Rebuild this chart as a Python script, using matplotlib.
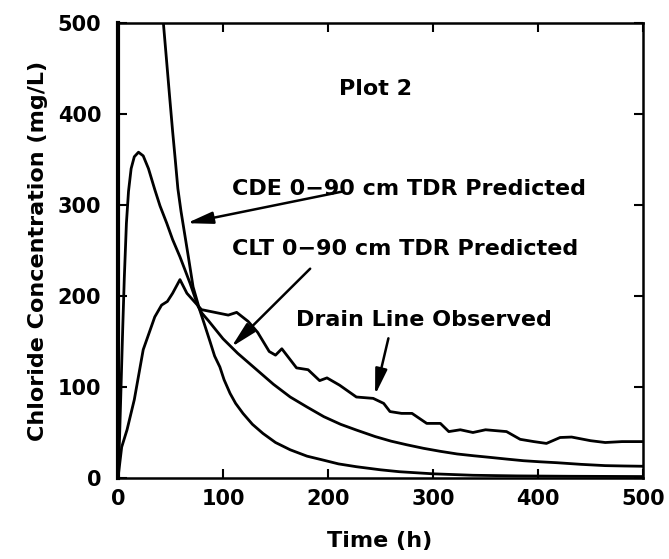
import numpy as np
import matplotlib
matplotlib.use('Agg')
import matplotlib.pyplot as plt

# chloride breakthrough, plot 2
obs_t = [0, 3.5, 8.6, 15.5, 24, 35, 41.5, 47, 52, 59, 65.6, 79.5, 105, 113, 124,
         133, 144, 150, 156, 170, 181, 192, 199, 211, 227, 243, 253, 259, 270,
         280, 294, 307, 315, 326, 338, 350, 370, 383, 396, 408, 421, 432, 450,
         464, 480, 500]
obs_c = [0, 34, 53, 86, 141, 177, 190, 194, 203, 218, 203, 185, 179, 182, 172,
         160, 139, 135, 142, 121, 119, 107, 110, 102, 89, 87.5, 82, 73, 71,
         71, 60, 60, 51, 53, 50, 53, 51, 42.5, 40, 38, 44.5, 45, 41,
         39, 40, 40]

clt_t = [0, 1.5, 3, 4.5, 6, 8, 10, 12.5, 15.5, 19.5, 24, 29, 35, 40, 46.4, 52,
         59, 64, 68.6, 72.5, 76.5, 80, 86, 93, 100, 107, 114, 120, 132, 148,
         164, 180, 196, 212, 227, 245, 260, 275, 291, 307, 323, 339, 354, 370,
         386, 402, 418, 441, 464, 482, 500]
clt_c = [0, 45, 105, 165, 220, 280, 315, 340, 353, 358, 354, 340, 317, 299, 280, 262,
         243, 228, 214, 201, 188, 181, 173, 163, 153, 145, 137, 131, 119, 103,
         89, 78, 67.4, 59, 52.7, 45.5, 40.5, 36.5, 32.6, 29.3, 26.4, 24.4, 22.7, 20.8,
         19, 17.8, 16.8, 15, 13.6, 13.2, 12.9]

cde_t = [40, 43.2, 46, 49, 52, 54.5, 57, 60, 63.5, 67, 71.5, 75, 78, 82, 87.6,
         92, 97, 101, 106.7, 112, 119, 128, 138, 150, 164, 180, 195, 210, 227,
         250, 268, 300, 338, 380, 430, 500]
cde_c = [545, 500, 462, 421, 381, 350, 318, 293, 268, 243, 210, 196, 184, 170, 150,
         134, 122, 108, 93, 82, 71, 59, 49, 39, 31, 24, 19.8, 15.5, 12.4,
         9, 6.9, 4.6, 3.0, 2.3, 1.9, 1.6]

plt.rcParams['font.family'] = 'DejaVu Sans'
plt.rcParams['font.weight'] = 'bold'

fig = plt.figure(figsize=(6.69, 5.59), dpi=100)
ax = fig.add_axes([0.1764, 0.1449, 0.7848, 0.814])

lw = 2.0
ax.plot(obs_t, obs_c, color='k', lw=lw, solid_joinstyle='round')
ax.plot(clt_t, clt_c, color='k', lw=lw, solid_joinstyle='round')
ax.plot(cde_t, cde_c, color='k', lw=lw, solid_joinstyle='round')

ax.set_xlim(0, 500)
ax.set_ylim(0, 500)
ax.set_xticks(np.arange(0, 501, 100))
ax.set_yticks(np.arange(0, 501, 100))

ax.tick_params(direction='in', length=6.5, width=1.5, top=True, right=True,
               labelsize=15)
ax.tick_params(axis='x', pad=8)
ax.tick_params(axis='y', pad=12)
for lab in ax.get_xticklabels() + ax.get_yticklabels():
  lab.set_fontweight('bold')

for side in ['top', 'right', 'bottom']:
  ax.spines[side].set_linewidth(1.8)
ax.spines['left'].set_linewidth(3.0)

ax.set_xlabel('Time (h)', fontsize=16, fontweight='bold')
ax.set_ylabel('Chloride Concentration (mg/L)', fontsize=16, fontweight='bold')
ax.xaxis.set_label_coords(0.499, -0.138)
ax.xaxis.label.set_va('center')
ax.yaxis.set_label_coords(-0.152, 0.5)
ax.yaxis.label.set_va('center')

# labels and arrows
ax.text(245, 421, 'Plot 2', fontsize=16, fontweight='bold', ha='center', va='baseline')
ax.text(108.6, 311, 'CDE 0\u221290 cm TDR Predicted', fontsize=16, fontweight='bold',
        ha='left', va='baseline')
ax.text(108.6, 245, 'CLT 0\u221290 cm TDR Predicted', fontsize=16, fontweight='bold',
        ha='left', va='baseline')
ax.text(169.5, 167, 'Drain Line Observed', fontsize=16, fontweight='bold',
        ha='left', va='baseline')

aprops = dict(arrowstyle='-|>,head_length=1.3,head_width=0.3', lw=1.8, color='k',
              mutation_scale=12, shrinkA=0, shrinkB=0)
ax.annotate('', xy=(65.5, 280), xytext=(213, 314.6), arrowprops=aprops)
ax.annotate('', xy=(108, 144), xytext=(183, 230), arrowprops=aprops)
ax.annotate('', xy=(244.8, 91.2), xytext=(257.5, 153.5), arrowprops=aprops)

fig.savefig('out.png', dpi=100)
